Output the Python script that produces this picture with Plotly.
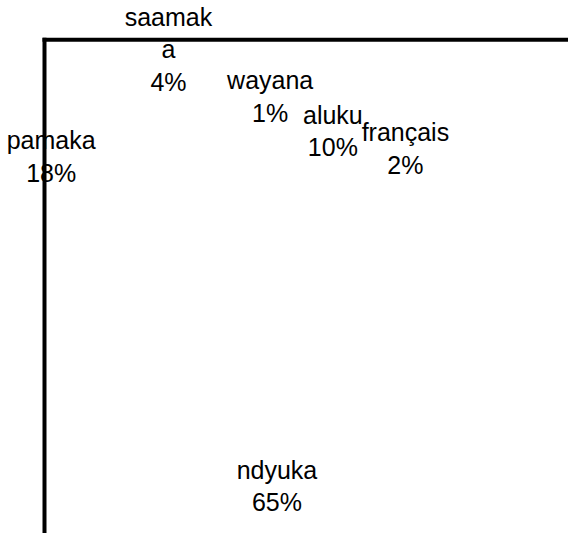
import plotly.graph_objects as go

# Data
languages = ["pamaka", "saamaka", "wayana", "aluku", "français", "ndyuka"]
display_labels = ["pamaka", "saamak<br>a", "wayana", "aluku", "français", "ndyuka"]
shares = [18, 4, 1, 10, 2, 65]

# Layout geometry (page pixels; body margin removed below)
FIG_W, FIG_H = 568, 533
CX, CY, R = 277, 305, 215
FRAME_X, FRAME_Y = 44.5, 39.7
FONT = "Liberation Sans, Arial, Helvetica, sans-serif"

fig = go.Figure(
    go.Pie(
        labels=languages,
        values=shares,
        text=display_labels,
        texttemplate="%{text}<br>%{percent:.0%}",
        textposition=["outside", "outside", "inside", "inside", "inside", "inside"],
        insidetextorientation="horizontal",
        sort=False,
        direction="clockwise",
        rotation=-83,
        hole=0.7,
        marker=dict(colors=["rgba(0,0,0,0)"] * len(shares), line=dict(width=0, color="rgba(0,0,0,0)")),
        textfont=dict(family=FONT, size=25, color="#000000"),
        outsidetextfont=dict(family=FONT, size=25, color="#000000"),
        domain=dict(x=[(CX - R) / FIG_W, (CX + R) / FIG_W],
                    y=[(FIG_H - CY - R) / FIG_H, (FIG_H - CY + R) / FIG_H]),
        showlegend=False,
        hoverinfo="skip",
    )
)

fig.update_layout(
    width=FIG_W,
    height=FIG_H,
    margin=dict(l=0, r=0, t=0, b=0, autoexpand=False),
    uniformtext=dict(minsize=25, mode="show"),
    paper_bgcolor="#ffffff",
    plot_bgcolor="#ffffff",
    showlegend=False,
    shapes=[
        dict(type="line", xref="paper", yref="paper",
             x0=(FRAME_X - 2) / FIG_W, x1=1.02,
             y0=(FIG_H - FRAME_Y) / FIG_H, y1=(FIG_H - FRAME_Y) / FIG_H,
             line=dict(color="#000000", width=4), layer="above"),
        dict(type="line", xref="paper", yref="paper",
             x0=FRAME_X / FIG_W, x1=FRAME_X / FIG_W,
             y0=-0.02, y1=(FIG_H - FRAME_Y + 2) / FIG_H,
             line=dict(color="#000000", width=4), layer="above"),
    ],
)

fig.write_html(
    "out.html",
    config={"displayModeBar": False},
    post_script="document.body.style.margin='0';document.documentElement.style.overflow='hidden';document.body.style.overflow='hidden';",
)
